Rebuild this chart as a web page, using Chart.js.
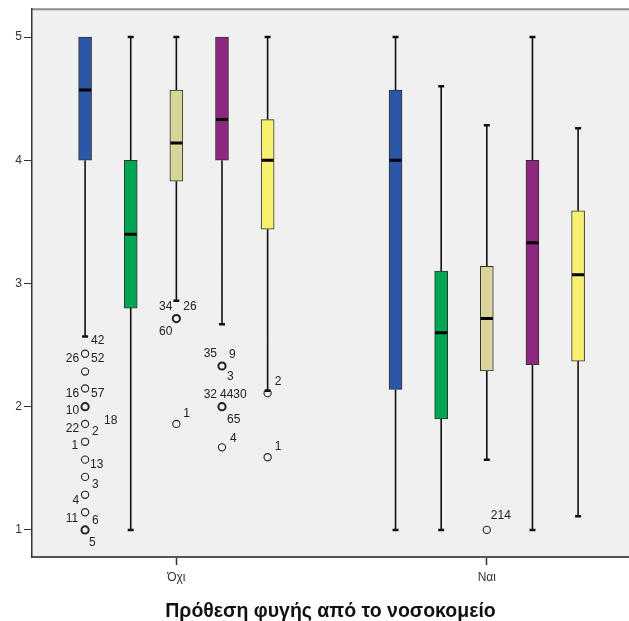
<!DOCTYPE html>
<html lang="el">
<head>
	<meta charset="UTF-8">
	<title>Box plot</title>
	<script src="https://cdn.jsdelivr.net/npm/chart.js@4.4.1/dist/chart.umd.min.js"></script>
	<style>
		html, body {
			margin: 0;
			padding: 0;
			background: #fff;
		}

		#canvasContainer {
			width: 629px;
			height: 621px;
		}
	</style>
</head>
<body>
	<div id="canvasContainer">
		<canvas id="chart"></canvas>
	</div>

	<script>
		// groups on the x axis
		const groups = ["Όχι", "Ναι"];

		// one colour per variable (5 boxes per group)
		const colors = ["#2c56a6", "#00a651", "#d8d49a", "#8e2780", "#f6f06e"];

		// box statistics, [variable][group]
		const whiskerHigh = [[5, 5], [5, 4.60], [5, 4.285], [5, 5], [5, 4.26]];
		const q3 = [[5, 4.57], [4, 3.10], [4.57, 3.14], [5, 4.0], [4.33, 3.59]];
		const medians = [[4.57, 4.0], [3.40, 2.60], [4.14, 2.715], [4.33, 3.33], [4.0, 3.07]];
		const q1 = [[4, 2.14], [2.80, 1.90], [3.83, 2.29], [4, 2.34], [3.44, 2.37]];
		const whiskerLow = [[2.57, 1], [1, 1], [2.86, 1.57], [2.67, 1], [2.13, 1.11]];

		// outliers: [variable, group, value, several cases?]
		const outliers = [
			[0, 0, 2.43, 0], [0, 0, 2.285, 0], [0, 0, 2.148, 0], [0, 0, 2.0, 1],
			[0, 0, 1.86, 0], [0, 0, 1.715, 0], [0, 0, 1.57, 0], [0, 0, 1.43, 0],
			[0, 0, 1.285, 0], [0, 0, 1.143, 0], [0, 0, 1.0, 1],
			[2, 0, 2.715, 1], [2, 0, 1.86, 0],
			[3, 0, 2.33, 1], [3, 0, 2.0, 1], [3, 0, 1.67, 0],
			[4, 0, 2.11, 0], [4, 0, 1.59, 0],
			[2, 1, 1.0, 0]
		];

		// case numbers shown beside the outliers: [outlier index, text]
		const outlierTags = [
			[0, "42"], [0, "26"], [0, "52"], [2, "16"], [2, "57"], [3, "10"],
			[4, "22"], [4, "2"], [4, "18"], [5, "1"], [6, "13"], [7, "3"],
			[8, "4"], [9, "11"], [9, "6"], [10, "5"],
			[11, "34"], [11, "26"], [11, "60"], [12, "1"],
			[13, "35"], [13, "9"], [13, "3"], [14, "32"], [14, "4430"], [14, "65"], [15, "4"],
			[16, "2"], [17, "1"],
			[18, "214"]
		];

		// where each tag sits relative to its circle (pixels), same order as outlierTags
		const tagPlacement = [
			[6, -13, "left"], [-6, 5, "right"], [6, 5, "left"], [-6, 5, "right"], [6, 5, "left"], [-6, 4, "right"],
			[-6, 5, "right"], [7, 8, "left"], [19, -3, "left"], [-7, 4, "right"], [5, 5, "left"], [7, 8, "left"],
			[-6, 6, "right"], [-7, 6, "right"], [7, 8, "left"], [4, 13, "left"],
			[-4, -12, "right"], [7, -12, "left"], [-4, 13, "right"], [7, -10, "left"],
			[-5, -12, "right"], [7, -11, "left"], [5, 11, "left"], [-5, -12, "right"], [-2, -12, "left"], [5, 13, "left"], [8, -9, "left"],
			[7, -11, "left"], [7, -11, "left"],
			[4, -14, "left"]
		];

		// horizontal offset of each variable inside a group (x units)
		const slot = [-0.294, -0.147, 0, 0.147, 0.294];

		const xPos = (s, g) => g + 1 + slot[s];

		let boxes = [];
		let boxColors = [];
		let whiskers = [];
		let medianPts = [];
		for (let g = 0; g < groups.length; g++) {
			for (let s = 0; s < colors.length; s++) {
				const x = xPos(s, g);
				boxes.push({ x: x, y: [q1[s][g], q3[s][g]] });
				boxColors.push(colors[s]);
				medianPts.push({ x: x, y: medians[s][g] });
				if (whiskerHigh[s][g] > q3[s][g]) {
					whiskers.push({ x: x, y: whiskerHigh[s][g], cap: true });
					whiskers.push({ x: x, y: q3[s][g] });
					whiskers.push({ x: x, y: null });
				}
				if (whiskerLow[s][g] < q1[s][g]) {
					whiskers.push({ x: x, y: q1[s][g] });
					whiskers.push({ x: x, y: whiskerLow[s][g], cap: true });
					whiskers.push({ x: x, y: null });
				}
			}
		}

		const outlierPts = outliers.map(o => ({ x: xPos(o[0], o[1]), y: o[2], many: o[3] }));

		const plotBackground = {
			id: 'plotBackground',
			beforeDraw(chart) {
				const { ctx, chartArea: a } = chart;
				ctx.save();
				ctx.fillStyle = '#ffffff';
				ctx.fillRect(0, 0, chart.width, chart.height);
				ctx.fillStyle = '#f0f0f0';
				ctx.fillRect(a.left, a.top, a.right - a.left, a.bottom - a.top);
				ctx.strokeStyle = '#8c8c8c';
				ctx.lineWidth = 2;
				ctx.beginPath();
				ctx.moveTo(a.left, a.top);
				ctx.lineTo(a.right, a.top);
				ctx.stroke();
				ctx.restore();
			}
		};

		const caseLabels = {
			id: 'caseLabels',
			afterDatasetsDraw(chart) {
				const meta = chart.getDatasetMeta(3);
				const ctx = chart.ctx;
				ctx.save();
				ctx.font = '12px "Liberation Sans", Arial, sans-serif';
				ctx.fillStyle = '#222';
				ctx.textBaseline = 'middle';
				outlierTags.forEach((t, i) => {
					const pt = meta.data[t[0]];
					const p = tagPlacement[i];
					ctx.textAlign = p[2];
					ctx.fillText(t[1], pt.x + p[0], pt.y + p[1]);
				});
				ctx.restore();
			}
		};

		const config = {
			type: 'bar',
			data: {
				datasets: [
					{
						type: 'bar',
						data: boxes,
						backgroundColor: boxColors,
						borderColor: '#333',
						borderWidth: 1,
						borderSkipped: false,
						barThickness: 13,
						order: 2
					},
					{
						type: 'line',
						data: whiskers,
						borderColor: '#111',
						borderWidth: 1.6,
						spanGaps: false,
						pointStyle: 'line',
						pointRadius: c => (c.raw && c.raw.cap ? 3 : 0),
						pointBorderWidth: 2.5,
						pointBorderColor: '#111',
						order: 3
					},
					{
						type: 'scatter',
						data: medianPts,
						pointStyle: 'line',
						pointRadius: 6,
						pointBorderWidth: 3,
						pointBorderColor: '#000',
						order: 1
					},
					{
						type: 'scatter',
						data: outlierPts,
						pointStyle: 'circle',
						pointRadius: 3.6,
						pointBackgroundColor: 'rgba(0,0,0,0)',
						pointBorderColor: '#222',
						pointBorderWidth: c => (c.raw && c.raw.many ? 2 : 1.1),
						order: 0
					}
				]
			},
			options: {
				responsive: true,
				maintainAspectRatio: false,
				animation: false,
				layout: {
					autoPadding: false,
					padding: { top: 6, right: 0, bottom: 0, left: 0 }
				},
				plugins: {
					legend: { display: false },
					tooltip: { enabled: false }
				},
				scales: {
					x: {
						type: 'linear',
						min: 0.535,
						max: 2.458,
						offset: false,
						afterBuildTicks: s => { s.ticks = [{ value: 1 }, { value: 2 }]; },
						afterFit: s => { s.height = 64; },
						ticks: {
							callback: v => groups[v - 1],
							color: '#333',
							padding: 5,
							font: { family: '"Liberation Sans", Arial, sans-serif', size: 12 }
						},
						grid: {
							offset: false,
							drawOnChartArea: false,
							tickLength: 8,
							tickWidth: 1.5,
							color: '#333'
						},
						border: { color: '#555', width: 2 },
						title: {
							display: true,
							text: 'Πρόθεση φυγής από το νοσοκομείο',
							color: '#111',
							padding: { top: 0, bottom: 0 },
							font: { family: '"Liberation Sans", Arial, sans-serif', size: 19.5, weight: 'bold', lineHeight: 1 }
						}
					},
					y: {
						type: 'linear',
						min: 0.78,
						max: 5.226,
						afterBuildTicks: s => { s.ticks = s.ticks.filter(t => Number.isInteger(t.value)); },
						afterFit: s => { s.width = 32; },
						ticks: {
							stepSize: 1,
							color: '#333',
							padding: 2,
							font: { family: '"Liberation Sans", Arial, sans-serif', size: 12 }
						},
						grid: {
							drawOnChartArea: false,
							tickLength: 8,
							tickWidth: 1,
							color: '#333'
						},
						border: { color: '#333', width: 1.5 }
					}
				}
			},
			plugins: [plotBackground, caseLabels]
		};

		const chart = new Chart(document.getElementById('chart').getContext('2d'), config);
	</script>
</body>
</html>
